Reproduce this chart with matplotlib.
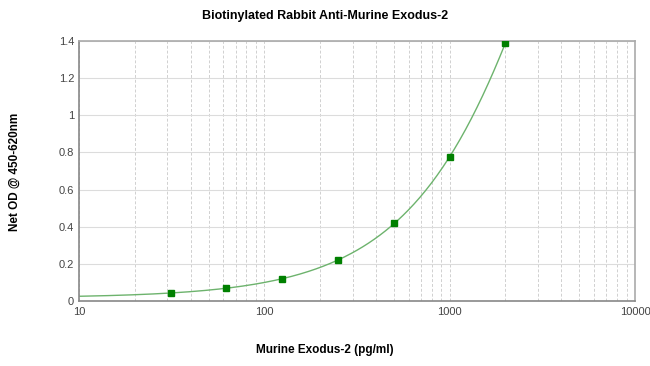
import numpy as np
import matplotlib
matplotlib.use("Agg")
import matplotlib.pyplot as plt
from matplotlib.ticker import LogLocator, FixedLocator, FuncFormatter

plt.rcParams['font.family'] = ['Liberation Sans', 'DejaVu Sans']

# standard concentrations (pg/ml) and net OD readings
conc = [31.25, 62.5, 125, 250, 500, 1000, 2000]
od = [0.043, 0.070, 0.118, 0.220, 0.420, 0.775, 1.390]

# curve fitted to the standards
coef = np.polyfit(conc, od, 2)
xs = np.logspace(1, np.log10(2000), 300)
ys = np.polyval(coef, xs)

fig = plt.figure(figsize=(6.5, 3.66), dpi=100)
ax = fig.add_axes([0.1215, 0.1776, 0.8555, 0.7104])

ax.plot(xs, ys, color='#6db36d', lw=1)
ax.plot(conc, od, 's', color='#008000', ms=5, zorder=3)

ax.set_xscale('log')
ax.set_xlim(10, 10000)
ax.set_ylim(0, 1.4)
ax.yaxis.set_major_locator(FixedLocator([0, 0.2, 0.4, 0.6, 0.8, 1, 1.2, 1.4]))
ax.yaxis.set_major_formatter(FuncFormatter(lambda v, p: '%g' % v))
ax.xaxis.set_major_formatter(FuncFormatter(lambda v, p: '%d' % v))
ax.xaxis.set_minor_locator(LogLocator(base=10, subs=np.arange(2, 10)))
ax.xaxis.set_minor_formatter(FuncFormatter(lambda v, p: ''))

ax.grid(axis='y', which='major', color='#dcdcdc', lw=0.8, ls='-')
ax.grid(axis='x', which='both', color='#d0d0d0', lw=0.7, ls=(0, (3, 2)))
ax.set_axisbelow(True)

ax.tick_params(which='both', length=0, labelsize=8, colors='#444444')
ax.tick_params(axis='x', pad=4)
for s in ['left', 'bottom']:
    ax.spines[s].set_color('#888888')
    ax.spines[s].set_linewidth(1.2)
for s in ['top', 'right']:
    ax.spines[s].set_color('#aaaaaa')
    ax.spines[s].set_linewidth(1.2)

fig.text(0.5, 0.955, 'Biotinylated Rabbit Anti-Murine Exodus-2',
         ha='center', va='center', fontsize=9, fontweight='bold')
fig.text(0.5, 0.045, 'Murine Exodus-2 (pg/ml)',
         ha='center', va='center', fontsize=8.5, fontweight='bold')
fig.text(0.022, 0.53, 'Net OD @ 450-620nm', rotation=90,
         ha='center', va='center', fontsize=8.5, fontweight='bold')

fig.savefig('out.png', dpi=100)
